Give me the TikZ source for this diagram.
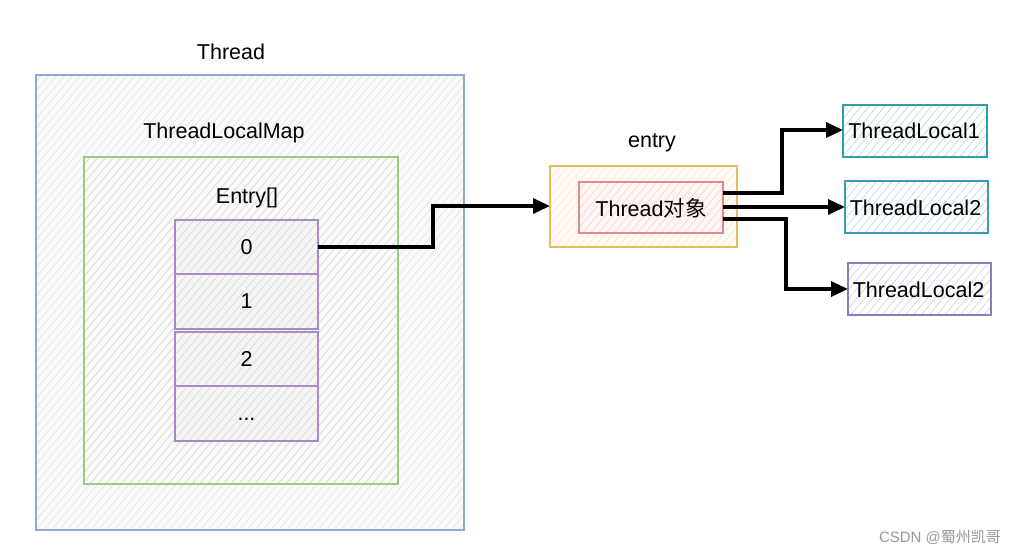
\documentclass[tikz,border=0pt]{standalone}
\usepackage{fontspec}
\setmainfont{Liberation Sans}
\newfontfamily\cjk{Noto Sans CJK SC}
\usetikzlibrary{patterns.meta,arrows.meta}
\definecolor{cthread}{HTML}{8FA8D8}
\definecolor{cmap}{HTML}{9CCB7E}
\definecolor{ccell}{HTML}{A88BC4}
\definecolor{centry}{HTML}{E2BE5A}
\definecolor{cobj}{HTML}{E08A8A}
\definecolor{ctlA}{HTML}{2E9EA3}
\definecolor{ctlB}{HTML}{3E98BE}
\definecolor{ctlC}{HTML}{8C7CB8}
\def\celldots{\vphantom{0}...}
\tikzset{
  hatch/.style={pattern={Lines[angle=50,distance=6pt,line width=0.7pt]},pattern color=#1},
  lbl/.style={font=\fontsize{21.5}{25}\selectfont,text=black,inner sep=0pt},
  conn/.style={line width=3.4pt,-{Triangle[length=17pt,width=15pt]}},
}
\begin{document}
\begin{tikzpicture}[x=1pt,y=-1pt]
\useasboundingbox (0,0) rectangle (1024,554);
\fill[white] (0,0) rectangle (1024,554);
% Thread
\fill[blue!2!gray!4] (36,75) rectangle (464,530);
\path[hatch=gray!22] (36,75) rectangle (464,530);
\draw[cthread,line width=2pt] (36,75) rectangle (464,530);
\node[lbl] (tthread) at (231,52) {Thread};
% ThreadLocalMap
\path[hatch=gray!25] (84,157) rectangle (398,484);
\draw[cmap,line width=2pt] (84,157) rectangle (398,484);
\node[lbl] (tmap) at (224,133) {ThreadLocalMap};
\node[lbl] (tentry) at (247,198) {Entry[]};
% cells
\foreach \n/\ya/\yb/\t in {c0/220/274/0, c1/274/329/1, c2/332/386/2, c3/386/441/\celldots}{
  \fill[gray!8] (175,\ya) rectangle (318,\yb);
  \path[hatch=gray!30] (175,\ya) rectangle (318,\yb);
  \draw[ccell,line width=2.2pt] (175,\ya) rectangle (318,\yb);
  \node[lbl] (\n) at (246.5,{(\ya+\yb)/2}) {\t};
}
\coordinate (c0r) at (318,247);
% entry
\fill[orange!4] (550,166) rectangle (737,247);
\path[hatch=orange!18] (550,166) rectangle (737,247);
\draw[centry,line width=2.2pt] (550,166) rectangle (737,247);
\node[lbl] (tent) at (652,143) {entry};
\coordinate (entl) at (550,206);
\fill[red!4] (579,182) rectangle (723,233);
\path[hatch=red!18] (579,182) rectangle (723,233);
\draw[cobj,line width=2pt] (579,182) rectangle (723,233);
\node[lbl] (obj) at (651,208) {Thread{\cjk 对象}};
% ThreadLocals
\path[hatch=ctlA!35] (843,105) rectangle (987,157);
\draw[ctlA,line width=2pt] (843,105) rectangle (987,157);
\node[lbl] (tl1) at (914,131) {ThreadLocal1};
\path[hatch=ctlB!35] (845,181) rectangle (988,233);
\draw[ctlB,line width=2pt] (845,181) rectangle (988,233);
\node[lbl] (tl2) at (915.5,208) {ThreadLocal2};
\path[hatch=ctlC!35] (848,263) rectangle (991,315);
\draw[ctlC,line width=2pt] (848,263) rectangle (991,315);
\node[lbl] (tl3) at (918.5,290) {ThreadLocal2};
\coordinate (tl1l) at (843,130);
\coordinate (tl2l) at (845,207);
\coordinate (tl3l) at (848,289);
\coordinate (o1) at (723,193);
\coordinate (o2) at (723,207);
\coordinate (o3) at (723,219);
% connectors
\draw[conn] (c0r) -- (433,247) -- (433,206) -- (entl);
\draw[conn] (o1) -- (782,193) -- (782,130) -- (tl1l);
\draw[conn] (o2) -- (tl2l);
\draw[conn] (o3) -- (786,219) -- (786,289) -- (tl3l);
% watermark
\node[font=\fontsize{15}{18}\selectfont,text=gray!80,inner sep=0pt] (wm) at (940,537) {CSDN @{\cjk 蜀州凯哥}};
\end{tikzpicture}
\end{document}
